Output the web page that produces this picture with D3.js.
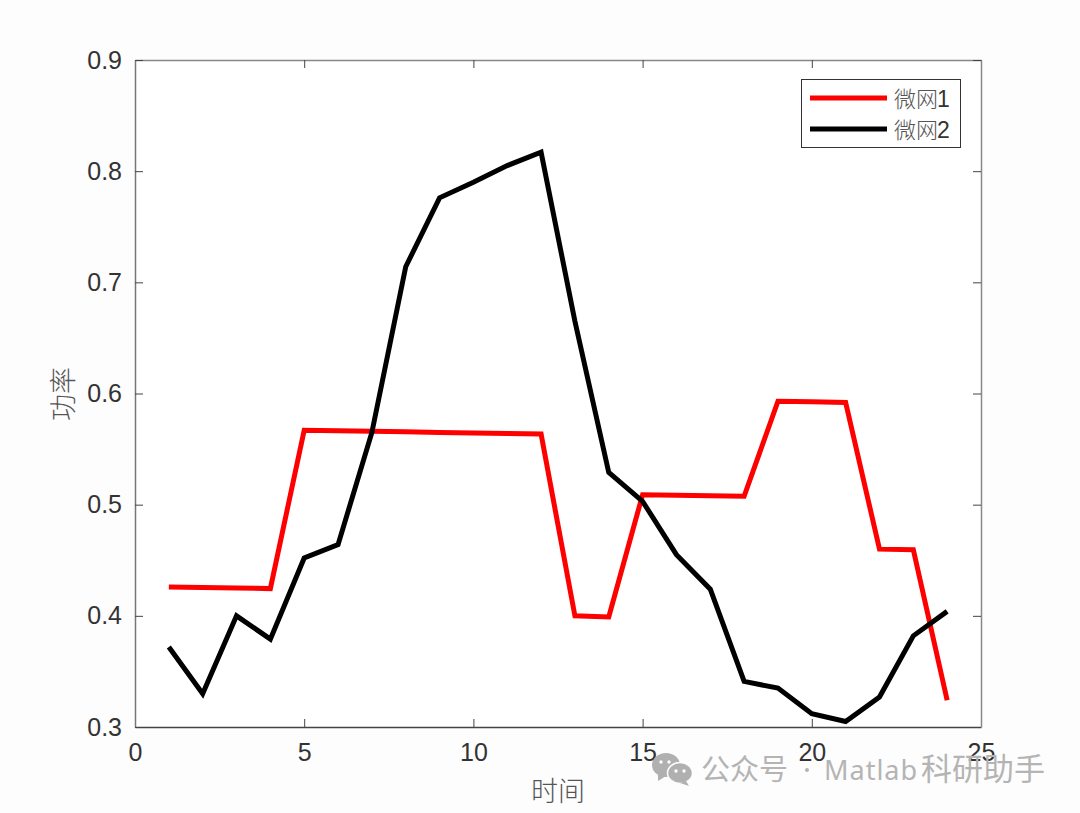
<!DOCTYPE html>
<html><head><meta charset="utf-8">
<script src="https://cdn.jsdelivr.net/npm/d3@7"></script>
<style>html,body{margin:0;padding:0;background:#fdfdfd}svg{display:block}</style>
</head><body><svg id="c" width="1080" height="813"></svg>
<script>
const hours = d3.range(1, 25);
const microgrid1 = [.426,.4255,.425,.4245,.567,.5665,.566,.5655,.565,.5645,.564,.5635,.4,.399,.509,.5085,.508,.5075,.593,.5925,.592,.46,.4595,.324];
const microgrid2 = [.372,.33,.4,.379,.452,.464,.565,.714,.776,.79,.805,.817,.665,.529,.503,.455,.424,.341,.335,.312,.305,.327,.382,.404];
const xTicks = [0,5,10,15,20,25];
const yTicks = [.3,.4,.5,.6,.7,.8,.9];
const seriesNames = ["微网1","微网2"];
const seriesColors = ["#ff0000","#000000"];

const svg = d3.select("#c");
const L=135,R=981,T=60,B=727;
const x = d3.scaleLinear().domain([0,25]).range([L,R]);
const y = d3.scaleLinear().domain([.3,.9]).range([B,T]);
const numFont = "'Liberation Sans',Arial,sans-serif";
const cjk = "'Noto Sans CJK SC','Noto Sans',sans-serif";

svg.append("rect").attr("x",L).attr("y",T).attr("width",R-L).attr("height",B-T).attr("fill","#fff");

function styleAxis(g, col){
  g.selectAll(".tick line").attr("stroke","#444").attr("stroke-width",1);
  g.selectAll(".domain").attr("stroke",col).attr("stroke-width",1.5);
  g.selectAll("text").attr("fill","#333").attr("font-family",numFont).attr("font-size",25);
}
const ax = d3.axisBottom(x).tickValues(xTicks).tickFormat(d3.format("d")).tickSizeInner(-8).tickSizeOuter(0).tickPadding(16);
svg.append("g").attr("transform",`translate(0,${B})`).call(ax).call(styleAxis,"#444");
svg.append("g").attr("transform",`translate(0,${T})`).call(d3.axisTop(x).tickValues(xTicks).tickFormat("").tickSizeInner(-8).tickSizeOuter(0)).call(styleAxis,"#888");
const ay = d3.axisLeft(y).tickValues(yTicks).tickFormat(d3.format(".1f")).tickSizeInner(-8).tickSizeOuter(0).tickPadding(13);
svg.append("g").attr("transform",`translate(${L},0)`).call(ay).call(styleAxis,"#777");
svg.append("g").attr("transform",`translate(${R},0)`).call(d3.axisRight(y).tickValues(yTicks).tickFormat("").tickSizeInner(-8).tickSizeOuter(0)).call(styleAxis,"#888");

const line = d3.line().x((d,i)=>x(hours[i])).y(d=>y(d));
[microgrid1,microgrid2].forEach((s,i)=>{
  svg.append("path").attr("d",line(s)).attr("fill","none").attr("stroke",seriesColors[i])
    .attr("stroke-width",5).attr("stroke-linejoin","miter");
});

// axis titles
svg.append("text").attr("x",558).attr("y",801).attr("text-anchor","middle").attr("font-family",cjk)
  .attr("font-size",27).attr("font-weight",300).attr("fill","#555").text("时间");
svg.append("text").attr("transform","translate(73,394) rotate(-90)").attr("text-anchor","middle").attr("font-family",cjk)
  .attr("font-size",27).attr("font-weight",300).attr("fill","#555").text("功率");

// legend
const lg = svg.append("g");
lg.append("rect").attr("x",801.5).attr("y",79.5).attr("width",159).attr("height",68).attr("fill","#fff").attr("stroke","#333").attr("stroke-width",1);
seriesNames.forEach((n,i)=>{
  const ly = [98,129][i];
  lg.append("line").attr("x1",810).attr("x2",887).attr("y1",ly).attr("y2",ly).attr("stroke",seriesColors[i]).attr("stroke-width",5);
  lg.append("text").attr("x",894).attr("y",ly+9).attr("font-family",cjk).attr("font-size",22).attr("font-weight",300).attr("fill","#555").text(n.slice(0,2));
  lg.append("text").attr("x",937).attr("y",ly+9).attr("font-family",numFont).attr("font-size",23).attr("fill","#333").text(n.slice(2));
});

// watermark
const wm = svg.append("g");
const ic = "#b0b0b0";
wm.append("ellipse").attr("cx",666).attr("cy",765).attr("rx",14).attr("ry",12).attr("fill",ic);
wm.append("path").attr("d","M658 774 L658 781 L666 776 Z").attr("fill",ic);
wm.append("ellipse").attr("cx",680).attr("cy",773).attr("rx",12.5).attr("ry",10.5).attr("fill",ic).attr("stroke","#fdfdfd").attr("stroke-width",1.5);
wm.append("path").attr("d","M686 781 L689 786 L680 783 Z").attr("fill",ic);
[[661,762],[669,762],[676,771],[684,771]].forEach(p=>wm.append("circle").attr("cx",p[0]).attr("cy",p[1]).attr("r",1.7).attr("fill","#fdfdfd"));
wm.append("text").attr("x",701).attr("y",780).attr("font-family",cjk).attr("font-size",29).attr("fill","#b4b4b4").text("公众号");
wm.append("circle").attr("cx",807).attr("cy",770).attr("r",2).attr("fill","#b4b4b4");
wm.append("text").attr("x",824).attr("y",780).attr("font-family","'Noto Sans',sans-serif").attr("font-size",27).attr("letter-spacing",1).attr("fill","#b4b4b4").text("Matlab");
wm.append("text").attr("x",921).attr("y",780).attr("font-family",cjk).attr("font-size",31).attr("fill","#b4b4b4").text("科研助手");
</script></body></html>
